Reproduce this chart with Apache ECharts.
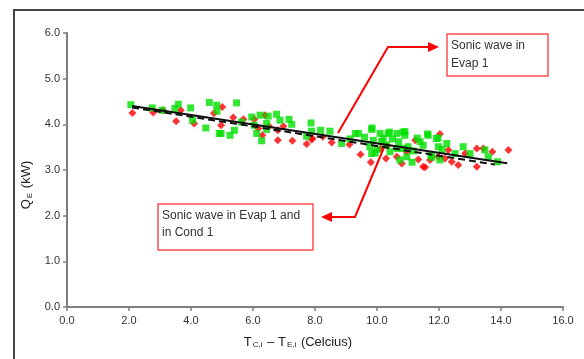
<!DOCTYPE html>
<html>
<head>
<meta charset="utf-8">
<script src="https://cdn.jsdelivr.net/npm/echarts@6/dist/echarts.min.js"></script>
<style>
  html, body { margin: 0; padding: 0; background: #fff; }
  #chart { width: 584px; height: 359px; }
</style>
</head>
<body>
<div id="chart"></div>
<script>
// Sonic wave in Evap 1 (green squares)
var greenX = [2.06, 2.75, 3.07, 3.48, 3.59, 3.99, 4.05, 4.48, 4.59, 4.83, 4.84, 4.91, 4.97, 5.26, 5.40, 5.47, 5.63, 5.96, 6.04, 6.12,
  6.23, 6.49, 6.44, 6.44, 6.28, 6.76, 6.87, 7.16, 7.25, 7.87, 7.73, 7.89, 8.18, 8.48, 8.86, 9.13, 9.30, 9.40, 9.84, 9.83,
  9.77, 9.83, 9.88, 9.94, 10.10, 10.15, 10.36, 10.40, 10.42, 10.64, 10.65, 10.74, 10.84, 10.85, 10.90, 10.90, 10.96, 11.00, 11.13, 11.17,
  11.39, 11.49, 11.63, 11.65, 11.74, 11.77, 11.92, 11.97, 11.98, 12.03, 12.25, 12.52, 12.78, 13.00, 13.48, 13.59, 13.89,
  10.20, 10.50, 10.70, 10.30, 9.60, 10.00, 11.30, 12.10]
var greenY = [4.43, 4.36, 4.31, 4.35, 4.44, 4.36, 4.09, 3.92, 4.48, 4.42, 4.29, 3.80, 3.80, 3.76, 3.87, 4.47, 4.05, 4.16, 3.98, 3.80,
  4.20, 4.18, 4.02, 3.89, 3.64, 4.22, 4.09, 4.11, 4.00, 4.03, 3.74, 3.85, 3.87, 3.85, 3.58, 3.68, 3.80, 3.80, 3.92, 3.89,
  3.51, 3.36, 3.65, 3.37, 3.80, 3.62, 3.80, 3.83, 3.40, 3.80, 3.47, 3.22, 3.83, 3.47, 3.84, 3.76, 3.29, 3.51, 3.17, 3.42,
  3.62, 3.54, 3.79, 3.76, 3.33, 3.28, 3.69, 3.70, 3.51, 3.22, 3.58, 3.36, 3.51, 3.36, 3.44, 3.29, 3.18,
  3.70, 3.68, 3.62, 3.55, 3.72, 3.45, 3.70, 3.45]

// Sonic wave in Evap 1 and in Cond 1 (red diamonds)
var redX = [2.11, 2.78, 3.10, 3.52, 3.67, 4.10, 4.74, 5.01, 4.97, 5.36, 5.69, 6.04, 6.17, 6.39, 6.30, 6.52, 6.80, 6.80, 6.98, 7.27,
  7.89, 7.73, 7.92, 8.25, 8.54, 9.11, 9.47, 9.80, 10.12, 10.33, 10.29, 10.80, 10.64, 10.96, 11.23, 11.33, 11.49, 11.55, 11.71, 11.98,
  12.03, 12.19, 12.30, 12.41, 12.62, 12.84, 13.22, 13.22, 13.43, 13.72, 14.24]
var redY = [4.25, 4.26, 4.31, 4.07, 4.31, 4.02, 4.24, 4.38, 3.98, 4.15, 4.11, 4.11, 3.91, 4.20, 3.76, 3.96, 3.87, 3.65, 3.96, 3.64,
  3.67, 3.57, 3.69, 3.73, 3.60, 3.56, 3.34, 3.17, 3.47, 3.53, 3.25, 3.14, 3.29, 3.40, 3.65, 3.23, 3.07, 3.06, 3.22, 3.29,
  3.79, 3.25, 3.44, 3.18, 3.11, 3.36, 3.47, 3.07, 3.47, 3.40, 3.44]

// trend lines
var solidX = [2.1, 14.2]
var solidY = [4.40, 3.15]
var dashedX = [2.1, 13.8]
var dashedY = [4.37, 3.12]

function pairs(xs, ys) {
  return xs.map(function (x, i) { return [x, ys[i]] })
}

var font = 'Liberation Sans, Arial, sans-serif'
var axisCommon = {
  axisLine: { lineStyle: { color: '#7f7f7f', width: 2 } },
  axisTick: { show: true, inside: false, length: 4, lineStyle: { color: '#7f7f7f', width: 1.5 } },
  splitLine: { show: false },
  axisLabel: { color: '#333', fontSize: 11, fontFamily: font, formatter: function (v) { return v.toFixed(1) } }
}

var chart = echarts.init(document.getElementById('chart'))
chart.setOption({
  animation: false,
  grid: { left: 67, right: 21, top: 33, bottom: 52 },
  xAxis: Object.assign({
    type: 'value', min: 0, max: 16, interval: 2,
    name: '{t|T}{s|C,i}{t| – T}{s|E,i}{t| (Celcius)}',
    nameLocation: 'middle', nameGap: 28,
    nameTextStyle: {
      padding: [0, 34, 0, 0],
      rich: {
        t: { fontSize: 13, fontFamily: font, color: '#222' },
        s: { fontSize: 8, fontFamily: font, color: '#222', verticalAlign: 'bottom', padding: [6, 1, 0, 1] }
      }
    }
  }, axisCommon, { axisLabel: Object.assign({}, axisCommon.axisLabel, { margin: 8 }) }),
  yAxis: Object.assign({
    type: 'value', min: 0, max: 6, interval: 1,
    name: '{t|Q}{s|E}{t| (kW)}',
    nameLocation: 'middle', nameGap: 30,
    nameTextStyle: {
      padding: [0, 30, 0, 0],
      rich: {
        t: { fontSize: 13, fontFamily: font, color: '#222' },
        s: { fontSize: 8, fontFamily: font, color: '#222', verticalAlign: 'bottom', padding: [6, 1, 0, 1] }
      }
    }
  }, axisCommon, { axisLabel: Object.assign({}, axisCommon.axisLabel, { margin: 7 }) }),
  series: [
    {
      name: 'Sonic wave in Evap 1 and in Cond 1',
      type: 'scatter', symbol: 'diamond', symbolSize: 8,
      itemStyle: { color: '#ff0000' },
      data: pairs(redX, redY)
    },
    {
      name: 'Sonic wave in Evap 1',
      type: 'scatter', symbol: 'rect', symbolSize: 7,
      itemStyle: { color: '#00e000' },
      data: pairs(greenX, greenY)
    },
    {
      type: 'line', symbol: 'none', z: 5,
      lineStyle: { color: '#111', width: 2 },
      data: pairs(solidX, solidY)
    },
    {
      type: 'line', symbol: 'none', z: 5,
      lineStyle: { color: '#111', width: 2, type: [7, 4] },
      data: pairs(dashedX, dashedY)
    }
  ],
  graphic: [
    // outer frame
    { type: 'rect', shape: { x: 14, y: 10, width: 620, height: 400 }, style: { fill: 'none', stroke: '#444', lineWidth: 2 } },
    // annotation 1
    { type: 'rect', shape: { x: 447, y: 34, width: 101, height: 42 }, style: { fill: '#fff', stroke: '#ff5050', lineWidth: 1.5 } },
    { type: 'text', x: 451, y: 37, style: { text: 'Sonic wave in\nEvap 1', fill: '#333', font: '12px ' + font, lineHeight: 18 } },
    { type: 'polyline', shape: { points: [[338, 133], [388, 47], [430, 47]] }, style: { stroke: '#ff0000', lineWidth: 2, fill: 'none' } },
    { type: 'polygon', shape: { points: [[439, 47], [428, 42], [428, 52]] }, style: { fill: '#ff0000' } },
    // annotation 2
    { type: 'rect', shape: { x: 158, y: 204, width: 155, height: 46 }, style: { fill: '#fff', stroke: '#ff5050', lineWidth: 1.5 } },
    { type: 'text', x: 162, y: 207, style: { text: 'Sonic wave in Evap 1 and\nin Cond 1', fill: '#333', font: '12px ' + font, lineHeight: 17 } },
    { type: 'polyline', shape: { points: [[385, 145], [355, 217], [331, 217]] }, style: { stroke: '#ff0000', lineWidth: 2, fill: 'none' } },
    { type: 'polygon', shape: { points: [[321, 217], [332, 212], [332, 222]] }, style: { fill: '#ff0000' } }
  ]
})
</script>
</body>
</html>
